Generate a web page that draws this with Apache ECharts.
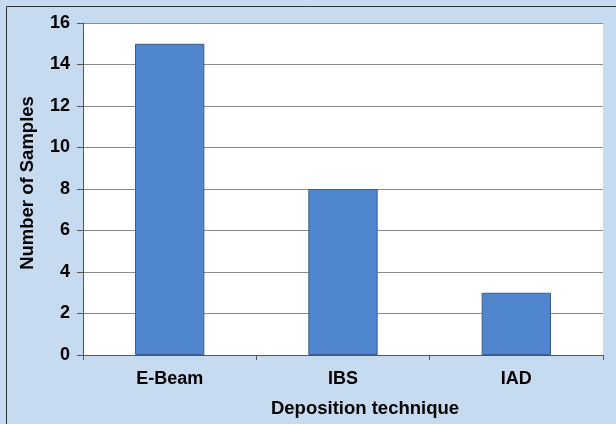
<!DOCTYPE html>
<html><head><meta charset="utf-8">
<script src="https://cdn.jsdelivr.net/npm/echarts@6/dist/echarts.min.js"></script>
<style>html,body{margin:0;padding:0;background:#fff}#c{width:616px;height:424px}</style>
</head><body><div id="c"></div>
<script>
const categories = ['E-Beam', 'IBS', 'IAD'];
const samples = [15, 8, 3];
const yTicks = [0, 2, 4, 6, 8, 10, 12, 14, 16];

const chart = echarts.init(document.getElementById('c'), null, {renderer: 'canvas'});
const font = '"Liberation Sans", Arial, sans-serif';
chart.setOption({
  backgroundColor: '#c6daf0',
  animation: false,
  graphic: [{
    type: 'rect', shape: {x: 6.5, y: 6.5, width: 640, height: 440},
    style: {fill: 'none', stroke: '#333', lineWidth: 1}, z: -1
  }],
  grid: {left: 83, right: 13, top: 23, bottom: 69, containLabel: false,
         show: true, backgroundColor: '#ffffff', borderWidth: 0},
  xAxis: {
    type: 'category', data: categories,
    name: 'Deposition technique', nameLocation: 'middle', nameGap: 44,
    nameTextStyle: {fontFamily: font, fontWeight: 'bold', fontSize: 18.5, color: '#000', padding: [0, 0, 0, 44]},
    axisLine: {lineStyle: {color: '#555', width: 1}},
    axisTick: {show: true, alignWithLabel: false, length: 5, lineStyle: {color: '#555'}},
    axisLabel: {fontFamily: font, fontWeight: 'bold', fontSize: 18, color: '#000', margin: 15}
  },
  yAxis: {
    type: 'value', min: 0, max: yTicks[yTicks.length - 1], interval: 2,
    name: 'Number of Samples', nameLocation: 'middle', nameGap: 46, nameRotate: 90,
    nameTextStyle: {fontFamily: font, fontWeight: 'bold', fontSize: 18.5, color: '#000', padding: [0, 0, 0, 12]},
    axisLine: {show: true, lineStyle: {color: '#555', width: 1}},
    axisTick: {show: true, length: 6, lineStyle: {color: '#555'}},
    axisLabel: {fontFamily: font, fontWeight: 'bold', fontSize: 18, color: '#000', margin: 13},
    splitLine: {lineStyle: {color: '#8a8a8a', width: 1}}
  },
  series: [{
    type: 'bar', data: samples, barWidth: '40%',
    itemStyle: {color: '#4f86cd', borderColor: '#3b5e8c', borderWidth: 1}
  }]
});
</script></body></html>
